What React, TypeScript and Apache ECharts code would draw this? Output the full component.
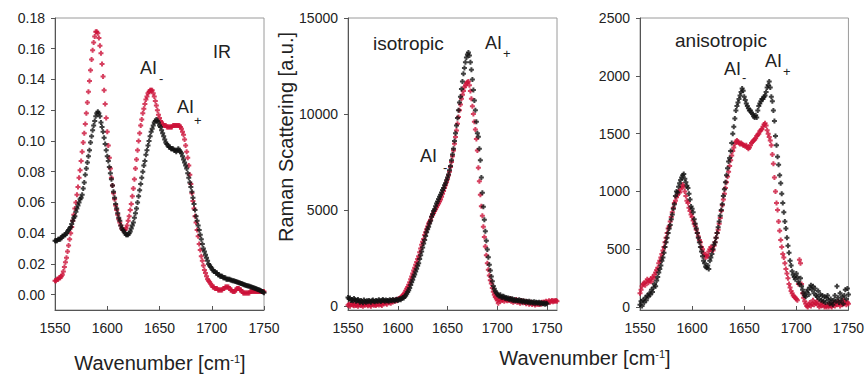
import React, { useEffect, useRef } from "react";
import * as echarts from "echarts";

// ---------- data ----------
const IR_START = 1550; // wavenumber of first sample, 1 cm-1 steps
const ISO_START = 1550;
const ANISO_START = 1550;

const X_TICKS = [1550, 1600, 1650, 1700, 1750];
const IR_TICKS = [0, 0.02, 0.04, 0.06, 0.08, 0.1, 0.12, 0.14, 0.16, 0.18];
const ISO_TICKS = [0, 5000, 10000, 15000];
const ANISO_TICKS = [0, 500, 1000, 1500, 2000, 2500];

// IR absorbance, black sample (1550..1750)
const irBlack = [
  0.035, 0.035, 0.035, 0.036, 0.036, 0.036, 0.037, 0.038, 0.038, 0.039,
  0.039, 0.040, 0.041, 0.042, 0.043, 0.044, 0.046, 0.048, 0.050, 0.051,
  0.054, 0.056, 0.058, 0.060, 0.062, 0.063, 0.065, 0.069, 0.073, 0.078,
  0.082, 0.086, 0.090, 0.094, 0.099, 0.103, 0.107, 0.110, 0.113, 0.116,
  0.118, 0.119, 0.118, 0.116, 0.112, 0.109, 0.106, 0.102, 0.098, 0.094,
  0.090, 0.087, 0.083, 0.079, 0.075, 0.071, 0.067, 0.063, 0.059, 0.056,
  0.053, 0.050, 0.048, 0.045, 0.043, 0.042, 0.041, 0.040, 0.039, 0.039,
  0.039, 0.040, 0.041, 0.043, 0.045, 0.047, 0.050, 0.053, 0.056, 0.060,
  0.064, 0.068, 0.072, 0.076, 0.080, 0.084, 0.087, 0.091, 0.094, 0.097,
  0.100, 0.103, 0.106, 0.108, 0.110, 0.112, 0.113, 0.114, 0.113, 0.112,
  0.110, 0.109, 0.107, 0.105, 0.103, 0.101, 0.099, 0.098, 0.097, 0.096,
  0.096, 0.095, 0.095, 0.095, 0.094, 0.094, 0.093, 0.094, 0.095, 0.094,
  0.093, 0.092, 0.090, 0.088, 0.086, 0.084, 0.082, 0.079, 0.076, 0.073,
  0.070, 0.067, 0.063, 0.059, 0.055, 0.051, 0.048, 0.045, 0.042, 0.039,
  0.036, 0.033, 0.030, 0.028, 0.026, 0.024, 0.022, 0.020, 0.019, 0.018,
  0.017, 0.016, 0.015, 0.015, 0.014, 0.014, 0.013, 0.013, 0.012, 0.012,
  0.012, 0.011, 0.011, 0.011, 0.010, 0.010, 0.010, 0.010, 0.0095, 0.0093,
  0.009, 0.009, 0.0087, 0.0085, 0.0082, 0.008, 0.0077, 0.0075, 0.0072, 0.007,
  0.0068, 0.0065, 0.0063, 0.006, 0.0058, 0.0056, 0.0054, 0.0052, 0.005, 0.0047,
  0.0045, 0.0042, 0.004, 0.0037, 0.0034, 0.0031, 0.0028, 0.0025, 0.0021, 0.0017,
  0.0013,
];

// IR absorbance, red sample (1550..1750)
const irRed = [
  0.009, 0.009, 0.010, 0.010, 0.011, 0.011, 0.012, 0.013, 0.015, 0.018,
  0.021, 0.024, 0.028, 0.032, 0.036, 0.040, 0.044, 0.048, 0.052, 0.056,
  0.060, 0.065, 0.070, 0.076, 0.081, 0.087, 0.093, 0.099, 0.105, 0.111,
  0.118, 0.125, 0.132, 0.139, 0.146, 0.153, 0.159, 0.164, 0.168, 0.171,
  0.171, 0.170, 0.167, 0.162, 0.157, 0.150, 0.142, 0.133, 0.124, 0.115,
  0.106, 0.097, 0.089, 0.082, 0.076, 0.071, 0.066, 0.062, 0.058, 0.055,
  0.052, 0.049, 0.047, 0.045, 0.043, 0.042, 0.042, 0.042, 0.043, 0.045,
  0.048, 0.051, 0.055, 0.059, 0.064, 0.069, 0.075, 0.082, 0.088, 0.094,
  0.100, 0.105, 0.110, 0.114, 0.118, 0.121, 0.124, 0.127, 0.129, 0.131,
  0.132, 0.133, 0.133, 0.133, 0.131, 0.129, 0.126, 0.123, 0.120, 0.117,
  0.115, 0.113, 0.112, 0.111, 0.110, 0.110, 0.110, 0.109, 0.109, 0.109,
  0.109, 0.109, 0.109, 0.110, 0.110, 0.110, 0.110, 0.110, 0.110, 0.110,
  0.109, 0.108, 0.106, 0.104, 0.101, 0.097, 0.093, 0.089, 0.084, 0.078,
  0.072, 0.066, 0.061, 0.056, 0.051, 0.047, 0.042, 0.038, 0.033, 0.029,
  0.025, 0.022, 0.019, 0.016, 0.014, 0.012, 0.010, 0.009, 0.008, 0.007,
  0.006, 0.005, 0.005, 0.004, 0.004, 0.004, 0.003, 0.003, 0.003, 0.003,
  0.003, 0.004, 0.004, 0.005, 0.005, 0.005, 0.005, 0.004, 0.003, 0.003,
  0.002, 0.002, 0.002, 0.003, 0.004, 0.004, 0.004, 0.003, 0.003, 0.002,
  0.001, 0.001, 0.001, 0.001, 0.001, 0.001, 0.001, 0.002, 0.002, 0.002,
  0.002, 0.002, 0.002, 0.002, 0.002, 0.002, 0.002, 0.002, 0.002, 0.002,
  0.002,
];

// isotropic Raman, black (1550..1750)
const isoBlack = [
  450, 380, 420, 300, 350, 280, 400, 330, 250, 300,
  350, 280, 200, 300, 250, 180, 320, 260, 200, 280,
  230, 300, 250, 200, 280, 320, 260, 230, 300, 270,
  250, 330, 280, 240, 300, 350, 290, 260, 320, 280,
  300, 260, 340, 300, 280, 350, 310, 270, 330, 360,
  300, 340, 380, 330, 400, 450, 420, 500, 560, 650,
  740, 830, 950, 1100, 1250, 1380, 1530, 1650, 1800, 1950,
  2100, 2240, 2450, 2650, 2850, 3050, 3260, 3450, 3650, 3850,
  4000, 4130, 4300, 4450, 4650, 4800, 4950, 5050, 5200, 5350,
  5450, 5580, 5690, 5800, 5920, 6050, 6150, 6300, 6400, 6550,
  6700, 6850, 7080, 7300, 7600, 7900, 8200, 8600, 9000, 9400,
  9800, 10200, 10600, 10900, 11300, 11700, 12100, 12400, 12700, 12950,
  13100, 13200, 13050, 12700, 12300, 11800, 11250, 10700, 10200, 9600,
  9000, 8820, 8200, 7600, 6700, 5900, 5170, 4500, 3900, 3400,
  2950, 2550, 2150, 1850, 1550, 1300, 1050, 900, 780, 700,
  620, 570, 520, 600, 480, 450, 520, 480, 400, 450,
  380, 420, 350, 400, 330, 380, 300, 350, 280, 320,
  300, 280, 330, 250, 300, 220, 280, 250, 200, 260,
  230, 200, 250, 180, 220, 200, 170, 230, 150, 200,
  180, 160, 200, 130, 180, 150, 120, 170, 100, 150,
  130,
];

// isotropic Raman, red (1550..1760)
const isoRed = [
  50, 100, 0, 80, 150, 60, 20, 120, 40, 90,
  0, 60, 130, 30, 80, 0, 100, 50, 150, 70,
  20, 110, 60, 0, 90, 140, 50, 100, 30, 80,
  120, 60, 150, 90, 40, 180, 120, 200, 150, 100,
  250, 180, 230, 150, 280, 220, 300, 250, 330, 280,
  350, 400, 380, 450, 500, 550, 620, 700, 800, 900,
  1000, 1120, 1250, 1400, 1550, 1700, 1850, 2000, 2150, 2300,
  2450, 2600, 2800, 3000, 3200, 3350, 3500, 3700, 3850, 4000,
  4150, 4300, 4400, 4500, 4650, 4750, 4850, 4950, 5050, 5150,
  5250, 5350, 5450, 5550, 5700, 5850, 6000, 6150, 6300, 6450,
  6600, 6800, 7000, 7250, 7500, 7800, 8100, 8450, 8800, 9150,
  9500, 9850, 10200, 10500, 10800, 11000, 11200, 11400, 11500, 11600,
  11650, 11700, 11500, 11200, 10800, 10400, 10000, 9600, 9200, 8700,
  8100, 7200, 6500, 5800, 5200, 4700, 4130, 3600, 3100, 2650,
  2240, 1900, 1600, 1350, 1180, 950, 750, 600, 480, 400,
  300, 150, 350, 250, 450, 300, 380, 250, 400, 320,
  280, 350, 300, 400, 260, 330, 200, 300, 250, 350,
  200, 280, 220, 150, 300, 250, 180, 260, 200, 120,
  230, 180, 100, 200, 150, 80, 180, 130, 60, 150,
  100, 120, 80, 160, 100, 200, 150, 220, 180, 250,
  200, 220, 280, 200, 250, 300, 230, 280, 250, 300,
  260,
];

// anisotropic Raman, black (1550..1750)
const anisoBlack = [
  20, 50, 10, 60, 40, 80, 60, 100, 90, 120,
  110, 150, 130, 170, 200, 180, 230, 260, 300, 330,
  360, 400, 430, 470, 520, 560, 600, 640, 680, 710,
  760, 800, 850, 890, 960, 1000, 990, 1040, 1070, 1100,
  1120, 1140, 1150, 1110, 1080, 1050, 1030, 980, 930, 870,
  850, 820, 760, 720, 680, 640, 600, 560, 520, 480,
  440, 400, 380, 350, 340, 360, 330, 400, 430, 460,
  500, 540, 560, 600, 640, 690, 740, 790, 840, 890,
  960, 1020, 1080, 1140, 1200, 1260, 1290, 1350, 1420, 1500,
  1560, 1630, 1700, 1740, 1770, 1800, 1830, 1860, 1890, 1870,
  1820, 1790, 1760, 1740, 1720, 1700, 1700, 1680, 1670, 1650,
  1640, 1660, 1640, 1700, 1740, 1760, 1780, 1800, 1800, 1820,
  1830, 1860, 1900, 1920, 1950, 1900, 1820, 1780, 1700, 1610,
  1480, 1400, 1300, 1230, 1140, 1070, 980, 900, 820, 740,
  680, 600, 530, 470, 400, 360, 310, 280, 260, 240,
  290, 260, 220, 200, 250, 180, 150, 120, 100, 90,
  130, 150, 110, 170, 190, 150, 180, 120, 160, 100,
  90, 140, 70, 110, 60, 100, 50, 90, 40, 80,
  100, 60, 30, 70, 40, 20, 60, 100, 50, 180,
  80, 40, 120, 60, 90, 30, 100, 150, 70, 160,
  110,
];

// anisotropic Raman, red (1550..1750)
const anisoRed = [
  120, 150, 180, 200, 210, 190, 220, 240, 210, 230,
  240, 220, 260, 250, 280, 300, 320, 340, 380, 400,
  430, 460, 490, 520, 560, 600, 640, 680, 700, 740,
  780, 820, 860, 900, 920, 950, 970, 1000, 990, 1020,
  1040, 1060, 1040, 1000, 960, 920, 900, 860, 830, 800,
  780, 750, 720, 700, 670, 640, 610, 580, 560, 520,
  500, 470, 450, 430, 450, 440, 480, 500, 520, 500,
  490, 530, 560, 600, 640, 670, 720, 770, 830, 880,
  930, 980, 1030, 1080, 1130, 1170, 1220, 1270, 1310, 1350,
  1380, 1410, 1430, 1440, 1430, 1420, 1410, 1420, 1410, 1400,
  1400, 1390, 1400, 1380, 1370, 1380, 1400, 1420, 1430, 1440,
  1450, 1460, 1480, 1490, 1500, 1520, 1530, 1540, 1560, 1580,
  1590, 1570, 1530, 1500, 1470, 1440, 1400, 1320, 1240, 1120,
  1000, 900, 840, 740, 660, 580, 520, 460, 430, 380,
  330, 290, 250, 200, 170, 140, 120, 100, 90, 80,
  70, 60, 200, 410, 380, 200, 120, 80, 50, 30,
  10, 0, 20, 40, 10, 30, 60, 20, 40, 30,
  50, 20, 0, 30, 10, 40, 20, 0, 10, 0,
  20, 0, 30, 10, 0, 20, 40, 10, 30, 20,
  50, 30, 10, 40, 20, 60, 30, 50, 20, 40,
  30,
];

// ---------- styling ----------
const FONT = '"Liberation Sans", Arial, sans-serif';
const RED = "#cc1238";
const BLACK = "#111111";
const AXIS = "#555555";
const BORDER = "#9a9a9a";
const LABEL = "#222222";
const PLUS = "path://M2.4,0H5.6V2.4H8V5.6H5.6V8H2.4V5.6H0V2.4H2.4Z";

const pairs = (start: number, vals: number[]) => vals.map((v, i) => [start + i, v]);

const GRID_LEFTS = [55, 348, 640];

function xAxis(gi: number, max: number) {
  return {
    type: "value",
    gridIndex: gi,
    min: 1550,
    max,
    axisLine: { show: true, onZero: false, lineStyle: { color: AXIS, width: 1 } },
    axisTick: { show: true, inside: true, length: 4, customValues: X_TICKS, lineStyle: { color: AXIS } },
    axisLabel: {
      customValues: X_TICKS,
      margin: 11,
      fontSize: 14,
      fontFamily: FONT,
      color: LABEL,
      formatter: (v: number) => String(Math.round(v)),
    },
    splitLine: { show: false },
  };
}

function yAxis(gi: number, min: number, max: number, ticks: number[], fmt: (v: number) => string) {
  return {
    type: "value",
    gridIndex: gi,
    min,
    max,
    axisLine: { show: true, onZero: false, lineStyle: { color: AXIS, width: 1 } },
    axisTick: { show: true, inside: false, length: 4, customValues: ticks, lineStyle: { color: AXIS } },
    axisLabel: { customValues: ticks, margin: 10, fontSize: 14, fontFamily: FONT, color: LABEL, formatter: fmt },
    splitLine: { show: false },
  };
}

function scatter(gi: number, data: number[][], color: string, z: number) {
  return {
    type: "scatter",
    xAxisIndex: gi,
    yAxisIndex: gi,
    data,
    symbol: PLUS,
    symbolSize: 5,
    itemStyle: { color },
    silent: true,
    z,
  };
}

function txt(text: string, x: number, y: number, size: number, align = "left") {
  return {
    type: "text",
    x,
    y,
    silent: true,
    style: {
      text,
      fontSize: size,
      fontFamily: FONT,
      fill: LABEL,
      textAlign: align,
      textVerticalAlign: "middle",
      align,
      verticalAlign: "middle",
    },
  };
}

function wavTitle(cx: number, cy: number) {
  return {
    type: "text",
    x: cx,
    y: cy,
    silent: true,
    style: {
      text: "{w|Wavenumber [cm}{s|-1}{w|]}",
      rich: {
        w: { fontSize: 20, fontFamily: FONT, fill: LABEL, color: LABEL },
        s: { fontSize: 11, fontFamily: FONT, fill: LABEL, color: LABEL, verticalAlign: "top" },
      },
      textAlign: "center",
      textVerticalAlign: "middle",
      align: "center",
      verticalAlign: "middle",
    },
  };
}

export default function App() {
  const ref = useRef<HTMLDivElement>(null);
  useEffect(() => {
    if (!ref.current) return;
    const chart = echarts.init(ref.current, null, { renderer: "svg" });
    const option: any = {
      animation: false,
      backgroundColor: "#ffffff",
      grid: GRID_LEFTS.map((l) => ({
        left: l,
        top: 18,
        width: 209,
        height: 292,
        show: true,
        borderColor: BORDER,
        borderWidth: 1,
        backgroundColor: "transparent",
      })),
      xAxis: [xAxis(0, 1750), xAxis(1, 1760), xAxis(2, 1750)],
      yAxis: [
        yAxis(0, -0.01, 0.18, IR_TICKS, (v: number) => v.toFixed(2)),
        yAxis(1, -200, 15000, ISO_TICKS, (v: number) => String(Math.round(v))),
        yAxis(2, -25, 2500, ANISO_TICKS, (v: number) => String(Math.round(v))),
      ],
      series: [
        scatter(0, pairs(IR_START, irRed), RED, 2),
        scatter(0, pairs(IR_START, irBlack), BLACK, 3),
        scatter(1, pairs(ISO_START, isoRed), RED, 2),
        scatter(1, pairs(ISO_START, isoBlack), BLACK, 3),
        scatter(2, pairs(ANISO_START, anisoRed), RED, 2),
        scatter(2, pairs(ANISO_START, anisoBlack), BLACK, 3),
      ],
      graphic: [
        txt("IR", 213, 52, 18),
        txt("AI", 140, 68, 18),
        txt("-", 159, 78, 13),
        txt("AI", 177, 107, 18),
        txt("+", 194, 120, 13),
        txt("isotropic", 373, 43, 19),
        txt("AI", 485, 43, 18),
        txt("+", 503, 53, 13),
        txt("AI", 420, 156, 18),
        txt("-", 443, 167, 13),
        txt("anisotropic", 675, 40, 19),
        txt("AI", 724, 69, 18),
        txt("-", 742, 77, 13),
        txt("AI", 765, 61, 18),
        txt("+", 783, 71, 13),
        {
          type: "text",
          x: 286,
          y: 137,
          rotation: Math.PI / 2,
          silent: true,
          style: {
            text: "Raman Scattering [a.u.]",
            fontSize: 20,
            fontFamily: FONT,
            fill: LABEL,
            textAlign: "center",
            textVerticalAlign: "middle",
            align: "center",
            verticalAlign: "middle",
          },
        },
        wavTitle(160, 363),
        wavTitle(585, 358),
      ],
    };
    chart.setOption(option);
    return () => chart.dispose();
  }, []);
  return (
    <div
      ref={ref}
      style={{ position: "absolute", left: 0, top: 0, width: 867, height: 375 }}
    />
  );
}
